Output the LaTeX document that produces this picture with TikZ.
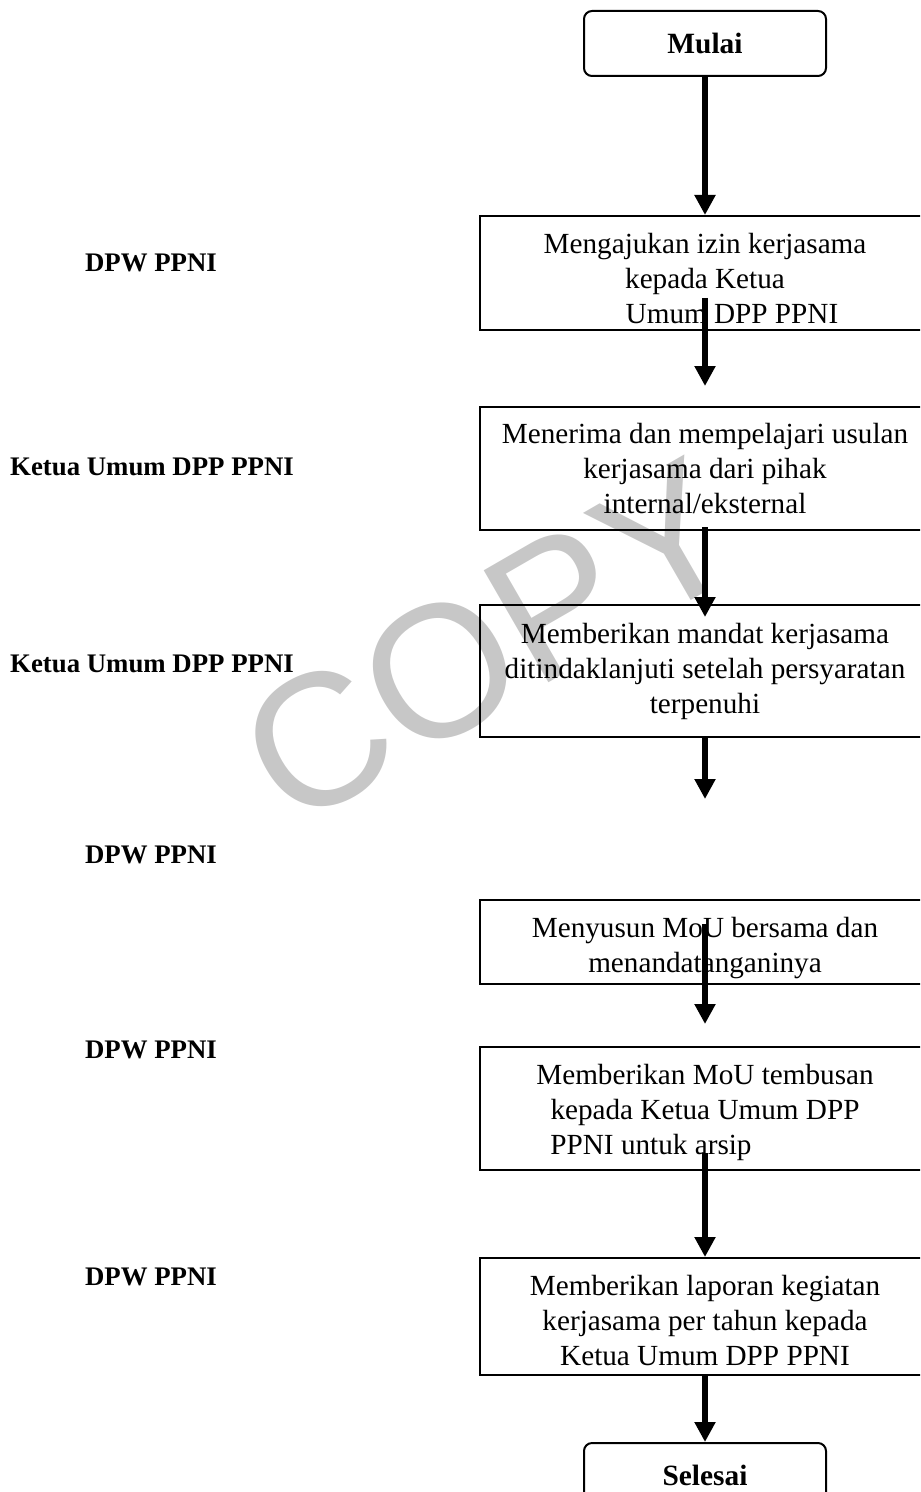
\documentclass[tikz,border=0pt]{standalone}
\usepackage{fontspec}
\setmainfont{Liberation Serif}
\newfontfamily\wmfont{Liberation Sans}
\usetikzlibrary{arrows.meta}
\tikzset{
  proc/.style={draw, line width=1pt, rectangle, minimum width=225pt, align=center, inner sep=0pt,
    font=\fontsize{14.6}{17.5}\selectfont},
  term/.style={draw, line width=1pt, rounded corners=4pt, minimum width=121pt, minimum height=32.5pt,
    font=\bfseries\fontsize{14.7}{17}\selectfont},
  role/.style={font=\bfseries\fontsize{13.4}{16}\selectfont},
  flow/.style={line width=3.2pt, -{Triangle[length=10pt,width=10pt]}}
}
\newcommand{\topgap}[1]{\rule{0pt}{#1}}

\begin{document}
\begin{tikzpicture}[x=0.5pt,y=-0.5pt]
  \useasboundingbox (0,0) rectangle (920,1492);
  \clip (0,0) rectangle (920,1492);
  \node[text=black!22, font=\wmfont\fontsize{94}{94}\selectfont, rotate=30] (wm) at (490,642) {COPY};

  \node[term] (start) at (705,43.5) {Mulai};
    \node[proc, minimum height=57pt] (izin) at (705,273)
      {\topgap{16pt}Mengajukan izin kerjasama\\kepada Ketua\\\mbox{\hspace{27pt}Umum DPP PPNI}};
    \node[proc, minimum height=61.5pt] (usulan) at (705,468.5)
      {Menerima dan mempelajari usulan\\kerjasama dari pihak\\internal/eksternal};
    \node[proc, minimum height=66pt] (mandat) at (705,671)
      {Memberikan mandat kerjasama\\ditindaklanjuti setelah persyaratan\\terpenuhi};
    \node[proc, minimum height=42pt] (mou) at (705,942)
      {\topgap{16pt}Menyusun MoU bersama dan\\menandatanganinya};
    \node[proc, minimum height=61.5pt] (tembusan) at (705,1108.5)
      {\topgap{14.5pt}Memberikan MoU tembusan\\kepada Ketua Umum DPP\\\mbox{PPNI untuk arsip\hspace{54pt}}};
    \node[proc, minimum height=58.5pt] (laporan) at (705,1316.5)
      {\topgap{14.5pt}Memberikan laporan kegiatan\\kerjasama per tahun kepada\\Ketua Umum DPP PPNI};
  \node[term] (finish) at (705,1475.5) {Selesai};

    \node[role] (role1) at (151,263) {DPW PPNI};
    \node[role] (role2) at (152,467) {Ketua Umum DPP PPNI};
    \node[role] (role3) at (152,664) {Ketua Umum DPP PPNI};
    \node[role] (role4) at (151,855) {DPW PPNI};
    \node[role] (role5) at (151,1050) {DPW PPNI};
    \node[role] (role6) at (151,1277) {DPW PPNI};

    \draw[flow] (start.south) -- (izin.north);
    \draw[flow] ([yshift=16.5pt]izin.south) -- ([yshift=10pt]usulan.north);
    \draw[flow] ([yshift=2pt]usulan.south) -- ([yshift=-6.5pt]mandat.north);
    \draw[flow] (mandat.south) -- ([yshift=50pt]mou.north);
    \draw[flow] ([yshift=30.5pt]mou.south) -- ([yshift=11pt]tembusan.north);
    \draw[flow] ([yshift=9pt]tembusan.south) -- (laporan.north);
    \draw[flow] (laporan.south) -- (finish.north);
\end{tikzpicture}
\end{document}
